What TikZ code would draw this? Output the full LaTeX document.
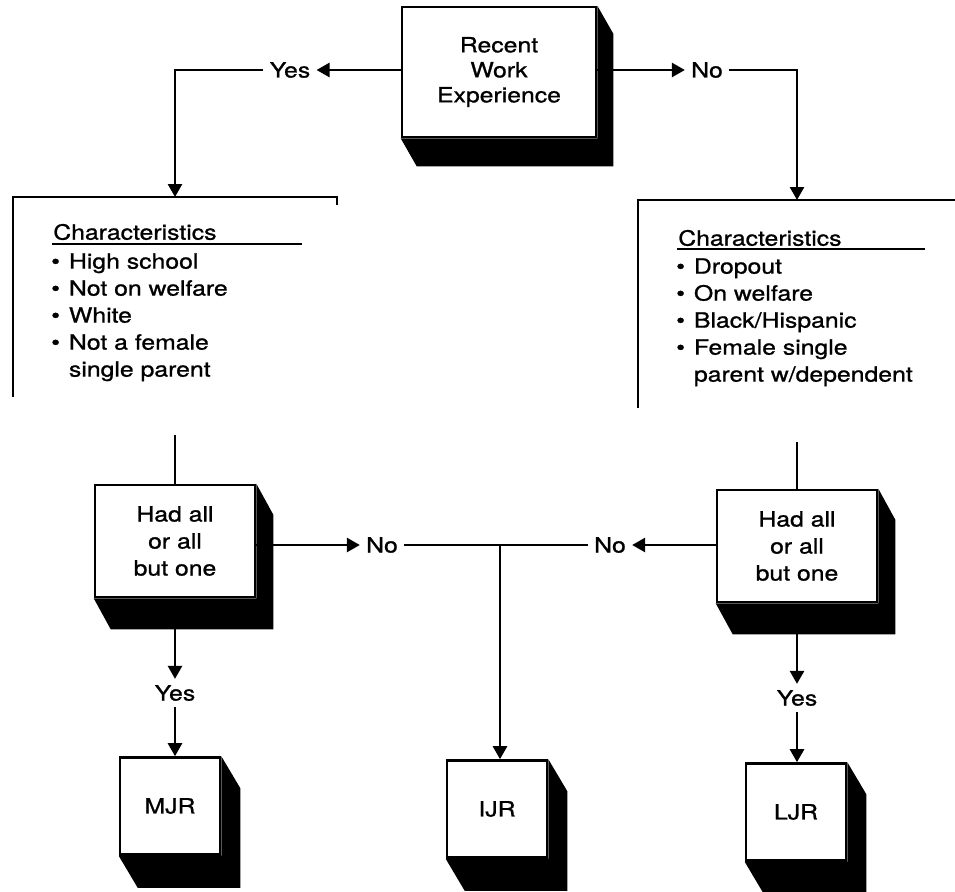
\documentclass[tikz,border=0pt]{standalone}
\usepackage{fontspec}
\setmainfont{TeX Gyre Heros}[FakeStretch=1.18, FakeBold=1]
\usetikzlibrary{arrows.meta, positioning, calc}

% black block shadow below and right of a box
\newcommand{\boxshade}[3]{%
  \fill (#1.north east) -- ++(#2,#3) -- ($(#1.south east)+(#2,#3)$)
     -- ($(#1.south west)+(#2,#3)$) -- (#1.south west) -- (#1.south east) -- cycle;}

\begin{document}
\begin{tikzpicture}[x=1pt, y=-1pt, line width=2.6pt,
    txt/.style={font=\fontsize{21}{27}\selectfont},
    blk/.style={txt, draw, fill=white, align=center, inner sep=0pt},
    big/.style={blk, minimum width=160pt, minimum height=112pt},
    small/.style={blk, minimum width=100pt, minimum height=97pt},
    lbl/.style={txt, inner sep=5pt},
    arr/.style={-{Triangle[width=14pt, length=13pt]}}]
    \useasboundingbox (0,0) rectangle (955,891);

    % decision boxes
    \node[big, minimum width=194pt, minimum height=130pt,
          font=\fontsize{21}{25}\selectfont] (rwe) at (499,72) {Recent\\Work\\Experience};
    \node[big] (had1) at (175,541) {Had all\\or all\\but one};
    \node[big] (had2) at (797,546) {Had all\\or all\\but one};
    \node[small] (mjr) at (170,806) {MJR};
    \node[small] (ijr) at (497,809) {IJR};
    \node[small] (ljr) at (796,812) {LJR};
    \boxshade{rwe}{16}{28}
    \boxshade{had1}{17}{31}
    \boxshade{had2}{17}{31}
    \boxshade{mjr}{19}{32}
    \boxshade{ijr}{19}{32}
    \boxshade{ljr}{19}{32}

    % characteristics panels
    \draw (337,205) -- (337,197) -- (13,197) -- (13,397);
    \draw (955,200) -- (638,200) -- (638,408);
    \node[txt, anchor=west, inner sep=0pt] (lhead) at (52,232) {Characteristics};
    \draw (52,244) -- (302,244);
    \node[txt, anchor=north west, align=left, inner sep=0pt] (llist) at (50,252)
        {\textbullet\hskip9pt High school\\\textbullet\hskip9pt Not on welfare\\
         \textbullet\hskip9pt White\\\textbullet\hskip9pt Not a female\\
         \phantom{\textbullet}\hskip9pt single parent};
    \node[txt, anchor=west, inner sep=0pt] (rhead) at (677,238) {Characteristics};
    \draw (677,249) -- (925,249);
    \node[txt, anchor=north west, align=left, inner sep=0pt] (rlist) at (675,257)
        {\textbullet\hskip9pt Dropout\\\textbullet\hskip9pt On welfare\\
         \textbullet\hskip9pt Black/Hispanic\\\textbullet\hskip9pt Female single\\
         \phantom{\textbullet}\hskip9pt parent w/dependent};

    % labels
    \node[lbl] (yes1) at (290,70) {Yes};
    \node[lbl] (no1) at (707,70) {No};
    \node[lbl] (no2) at (382,545) {No};
    \node[lbl] (no3) at (610,545) {No};
    \node[lbl] (yes2) at (175,693) {Yes};
    \node[lbl] (yes3) at (797,698) {Yes};
    \coordinate (ltop) at (175,197);
    \coordinate (rtop) at (797,200);
    \coordinate (lfoot) at (175,435);
    \coordinate (rfoot) at (797,442);
    \coordinate (mid) at (500,545);

    % connectors
    \draw[arr] (rwe.west |- yes1) -- (yes1.east);
    \draw[arr] (yes1.west) -| (ltop);
    \draw[arr] (rwe.east |- no1) -- (no1.west);
    \draw[arr] (no1.east) -| (rtop);
    \draw (lfoot) -- (had1.north);
    \draw (rfoot) -- (had2.north);
    \draw[arr] (had1.east |- no2) -- (no2.west);
    \draw[arr] (had2.west |- no3) -- (no3.east);
    \draw (no2.east) -- (no3.west);
    \draw[arr] (mid) -- (mid |- ijr.north);
    \draw[arr] ($(had1.south)+(0,31)$) -- (yes2.north);
    \draw[arr] (yes2.south) -- (yes2.south |- mjr.north);
    \draw[arr] ($(had2.south)+(0,31)$) -- (yes3.north);
    \draw[arr] (yes3.south) -- (yes3.south |- ljr.north);
\end{tikzpicture}
\end{document}
